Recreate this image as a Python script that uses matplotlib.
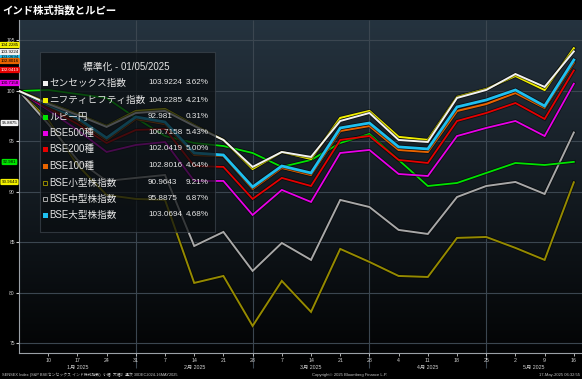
import numpy as np
import matplotlib.pyplot as plt
import matplotlib.patheffects as pe
from matplotlib.patches import Rectangle
from matplotlib.transforms import blended_transform_factory

plt.rcParams['font.family'] = ['Liberation Sans Narrow', 'Liberation Sans', 'Noto Sans CJK JP', 'DejaVu Sans']

# ============================
# DATA (weekly, normalised to 100)
# ============================

day_labels = ["", "10", "17", "24", "31", "7", "14", "21", "28", "7",
              "14", "21", "28", "4", "11", "18", "25", "2", "9", "16"]
month_labels = ["1月 2025", "2月 2025", "3月 2025", "4月 2025", "5月 2025"]

sensex = [100, 98.71, 97.62, 96.44, 97.82, 98.02, 96.53, 95.15, 92.48, 93.96,
          93.47, 97.03, 97.82, 95.15, 94.95, 99.31, 100.10, 101.68, 100.40, 103.92]
nifty = [100, 98.81, 97.72, 96.53, 98.02, 98.22, 96.63, 95.15, 92.28, 93.96,
         93.27, 97.33, 98.02, 95.45, 95.15, 99.41, 100.20, 101.49, 100.10, 104.23]
rupee_yen = [100, 100.10, 99.70, 99.31, 97.33, 95.54, 94.85, 94.55, 93.86, 92.48,
             93.17, 94.85, 95.74, 93.17, 90.59, 90.89, 91.88, 92.87, 92.67, 92.98]
bse500 = [100, 98.12, 96.14, 93.96, 94.65, 94.95, 91.09, 91.09, 87.72, 90.20,
          89.01, 93.86, 94.16, 91.78, 91.58, 95.54, 96.34, 97.03, 95.54, 100.72]
bse200 = [100, 98.32, 96.73, 94.85, 96.14, 96.24, 92.57, 92.48, 89.31, 91.39,
          90.59, 95.15, 95.54, 93.17, 92.87, 97.03, 97.82, 98.81, 97.23, 102.04]
bse100 = [100, 98.51, 97.13, 95.15, 97.23, 96.73, 93.66, 93.56, 90.30, 92.38,
          91.68, 96.04, 96.53, 94.16, 93.96, 98.02, 98.71, 99.80, 98.32, 102.80]
bse_small = [100, 97.13, 92.67, 89.70, 89.31, 89.21, 80.99, 81.68, 76.73, 81.19,
             78.12, 84.36, 83.07, 81.68, 81.58, 85.45, 85.54, 84.46, 83.27, 90.96]
bse_mid = [100, 96.73, 93.17, 91.09, 91.39, 91.68, 84.65, 86.04, 82.18, 84.95,
           83.27, 89.21, 88.51, 86.24, 85.84, 89.50, 90.59, 90.99, 89.80, 95.89]
bse_large = [100, 98.61, 97.33, 95.35, 97.43, 96.93, 93.86, 93.66, 90.50, 92.57,
             91.88, 96.34, 96.83, 94.46, 94.26, 98.42, 99.11, 100.10, 98.51, 103.07]

legend_names = ["センセックス指数", "ニフティヒフティ指数", "ルピー円", "BSE500種", "BSE200種",
                "BSE100種", "BSE小型株指数", "BSE中型株指数", "BSE大型株指数"]
legend_values = ["103.9224", "104.2285", "92.981", "100.7158", "102.0419",
                 "102.8016", "90.9643", "95.8875", "103.0694"]
legend_pcts = ["3.62%", "4.21%", "0.31%", "5.43%", "5.00%", "4.64%", "9.21%", "6.87%", "4.68%"]

# ============================
# STYLE
# ============================

C_WHITE = "#f2f2f2"
C_YELLOW = "#f2f000"
C_GREEN = "#00e400"
C_MAGENTA = "#e800e8"
C_RED = "#e60000"
C_ORANGE = "#e86400"
C_OLIVE = "#958a00"
C_GRAY = "#a8a8a8"
C_CYAN = "#1ec0f0"

W, H = 582, 379
fig = plt.figure(figsize=(W / 100, H / 100), dpi=100, facecolor="black")
ax = fig.add_axes([19 / W, 1 - 353 / H, 1 - 19 / W, (353 - 20) / H])

x = np.arange(len(sensex))
ax.set_xlim(0, 19.28)
ax.set_ylim(74.05, 107.03)

# background gradient
grad = np.linspace(1, 0, 256).reshape(-1, 1)
top = np.array([0x25, 0x33, 0x3f]) / 255
bot = np.array([0x03, 0x04, 0x05]) / 255
img = bot + (top - bot) * grad[..., None]
ax.imshow(img, extent=[0, 1, 0, 1], transform=ax.transAxes, aspect="auto", zorder=0)

# grid
for yv in range(75, 106, 5):
    ax.axhline(yv, color="#3b4650", lw=0.8, zorder=1)
for xv in [4, 8, 12, 16]:
    ax.vlines(xv, 72.6, 107.03, color="#3b4650", lw=0.8, zorder=1, clip_on=False)

# lines
series = [
    (bse_small, C_OLIVE, 1.4),
    (bse_mid, C_GRAY, 1.4),
    (rupee_yen, C_GREEN, 1.3),
    (bse500, C_MAGENTA, 1.3),
    (bse200, C_RED, 1.3),
    (bse100, C_ORANGE, 1.5),
    (bse_large, C_CYAN, 2.0),
    (nifty, C_YELLOW, 1.5),
    (sensex, C_WHITE, 1.4),
]
for vals, col, lw in series:
    ax.plot(x, vals, color=col, lw=lw, zorder=3, solid_joinstyle="miter",
            path_effects=[pe.Stroke(linewidth=lw + 1.2, foreground="black", alpha=0.55),
                          pe.Normal()])

# axes styling
for s in ["top", "right"]:
    ax.spines[s].set_visible(False)
for s in ["left", "bottom"]:
    ax.spines[s].set_color("#9aa0a6")
    ax.spines[s].set_linewidth(0.8)

ax.set_yticks(range(75, 106, 5))
ax.set_yticklabels([str(v) for v in range(75, 106, 5)])
ax.tick_params(axis="y", colors="#d0d0d0", labelsize=3.6, length=2, width=0.8, pad=1)
ax.set_xticks(x[1:])
ax.set_xticklabels(day_labels[1:])
ax.tick_params(axis="x", colors="#d0d0d0", labelsize=3.8, length=2, width=0.6, pad=1.5)

# month labels centred between the month separators
bounds = [0, 4, 8, 12, 16, 19.28]
tr = blended_transform_factory(ax.transData, fig.transFigure)
for i, lab in enumerate(month_labels):
    ax.text((bounds[i] + bounds[i + 1]) / 2, 1 - 367 / H, lab, transform=tr,
            ha="center", va="center", fontsize=3.8, color="#d0d0d0")

# ============================
# LEGEND BOX
# ============================

def fx(px):
    return px / W


def fy(py):
    return 1 - py / H


ax.add_patch(Rectangle((fx(40), fy(232)), fx(215) - fx(40), fy(52) - fy(232),
                       transform=fig.transFigure, facecolor="#0a0e11", alpha=0.72,
                       edgecolor="#3c444c", lw=0.8, zorder=5, clip_on=False))
ax.text(fx(126), fy(67), "標準化 - 01/05/2025", transform=fig.transFigure,
        ha="center", va="center", fontsize=7, color="#e6e6e6", zorder=6)

marker_cols = [C_WHITE, C_YELLOW, C_GREEN, C_MAGENTA, C_RED, C_ORANGE, C_OLIVE, C_GRAY, C_CYAN]
hollow = [False] * 6 + [True, True, False]
row_y = [83, 100, 117, 133, 149, 166, 183, 199, 215]
for i in range(len(legend_names)):
    yy = fy(row_y[i])
    if hollow[i]:
        ax.add_patch(Rectangle((fx(42.5), yy - 2.2 / H), 4.4 / W, 4.4 / H,
                               transform=fig.transFigure, facecolor="none",
                               edgecolor=marker_cols[i], lw=0.7, zorder=6, clip_on=False))
    else:
        ax.add_patch(Rectangle((fx(42.5), yy - 2.5 / H), 5 / W, 5 / H,
                               transform=fig.transFigure, facecolor=marker_cols[i],
                               edgecolor="none", zorder=6, clip_on=False))
    ax.text(fx(49), yy, legend_names[i], transform=fig.transFigure, ha="left",
            va="center", fontsize=6.9, color="#e6e6e6", zorder=6)
    ax.text(fx(148), yy, legend_values[i], transform=fig.transFigure, ha="left",
            va="center", fontsize=5.9, color="#e6e6e6", zorder=6)
    ax.text(fx(186), yy, legend_pcts[i], transform=fig.transFigure, ha="left",
            va="center", fontsize=5.9, color="#e6e6e6", zorder=6)

# ============================
# VALUE TAGS (left side)
# ============================

tags = [
    (legend_values[8], C_CYAN, "black", 57),
    (legend_values[5], C_ORANGE, "black", 61),
    (legend_values[4], C_RED, "white", 70),
    (legend_values[0], C_WHITE, "black", 52),
    (legend_values[1], C_YELLOW, "black", 45),
    (legend_values[3], C_MAGENTA, "black", 83),
    (legend_values[7], C_WHITE, "black", 123),
    (legend_values[2], C_GREEN, "black", 162),
    (legend_values[6], C_YELLOW, "black", 182),
]
for txt, fc, tc, py in tags:
    fig.text(fx(9.5), fy(py), txt, ha="center", va="center", fontsize=3.2, color=tc,
             bbox=dict(boxstyle="round,pad=0.25", fc=fc, ec="none"), zorder=7)

# ============================
# TITLE AND FOOTER
# ============================

fig.text(fx(2), fy(10), "インド株式指数とルピー", ha="left", va="center",
         fontsize=7.5, fontweight="bold", color="white")
fig.text(fx(2), fy(375), "SENSEX Index (S&P BSEセンセックス インド株式指数)  小幅  大幅2  週次 30DEC2024-16MAY2025",
         ha="left", va="center", fontsize=2.8, color="#c8c8c8")
fig.text(fx(350), fy(375), "Copyright© 2025 Bloomberg Finance L.P.", ha="center",
         va="center", fontsize=3, color="#c8c8c8")
fig.text(fx(580), fy(375), "17-May-2025 06:32:55", ha="right", va="center",
         fontsize=3, color="#c8c8c8")

fig.savefig("out.png", dpi=100, facecolor="black")
